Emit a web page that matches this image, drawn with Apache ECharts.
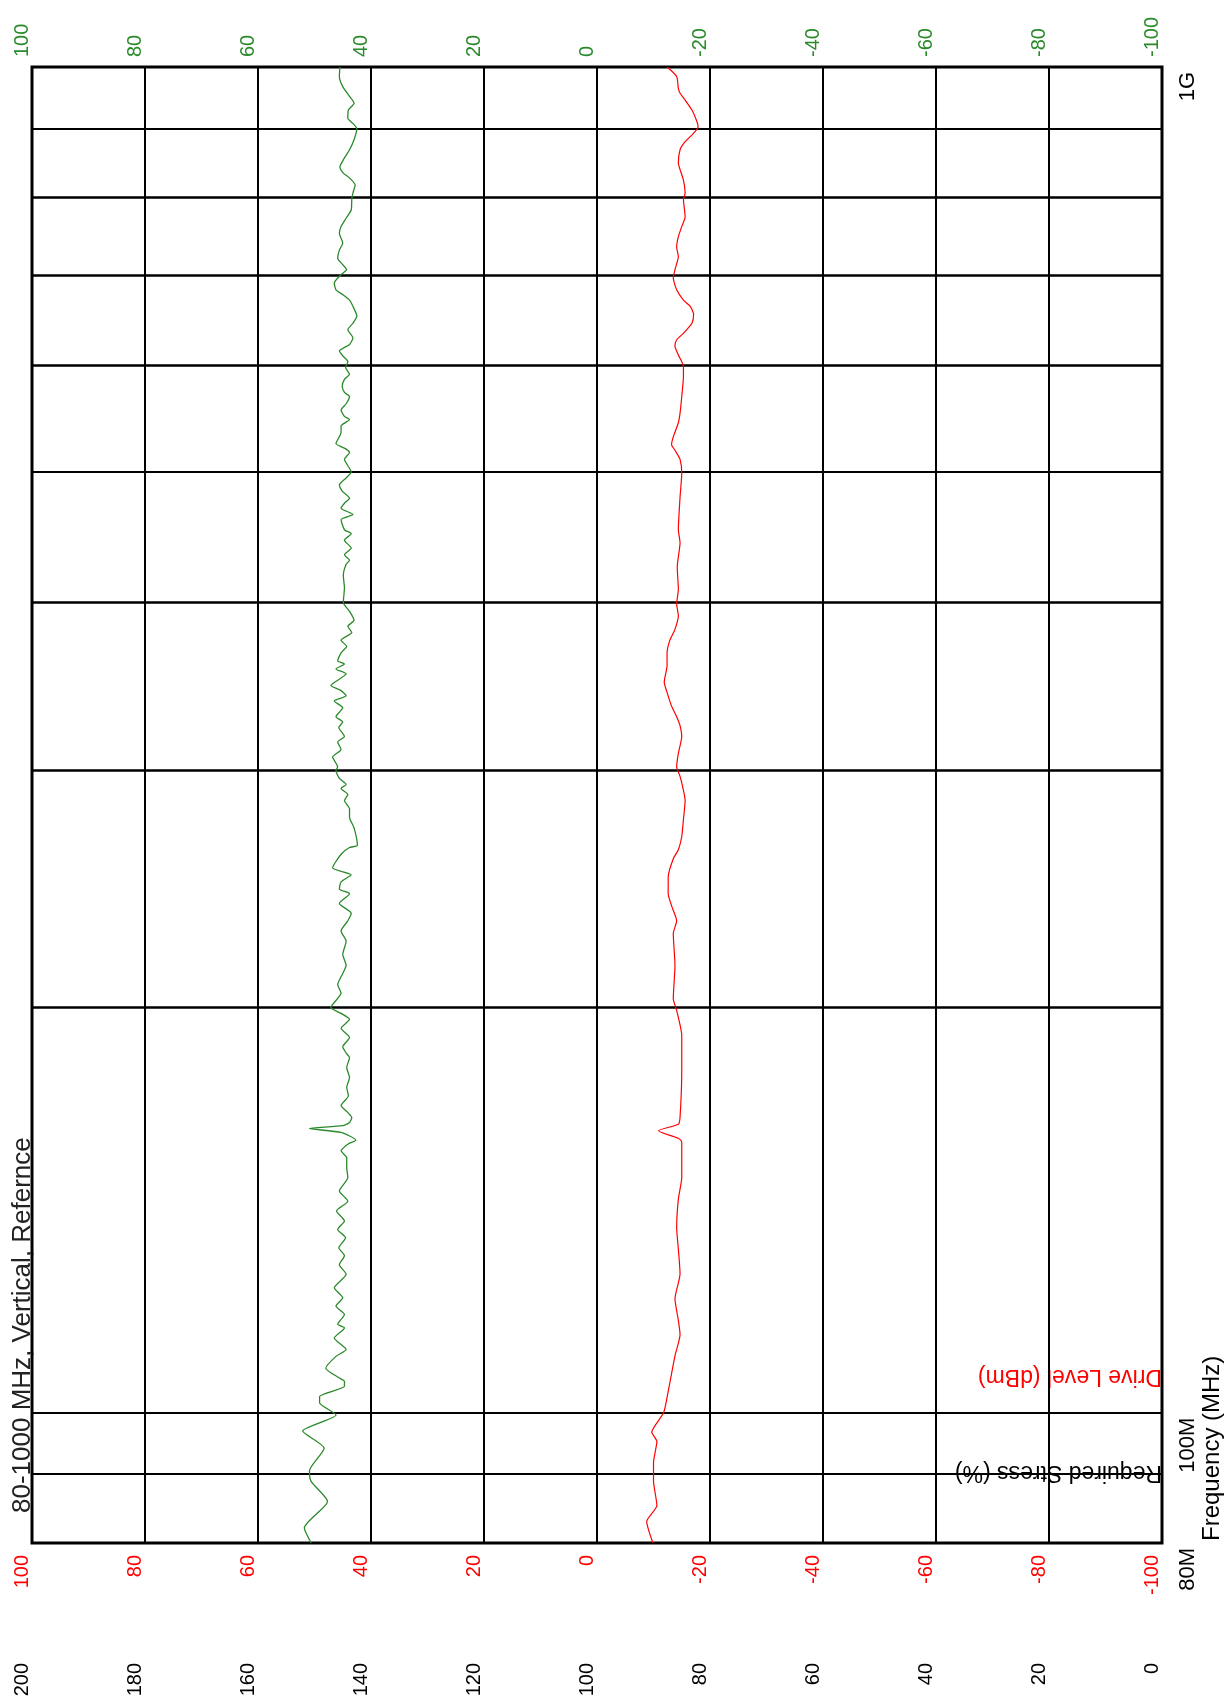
<!DOCTYPE html>
<html><head><meta charset="utf-8">
<script src="https://cdn.jsdelivr.net/npm/echarts@6/dist/echarts.min.js"></script>
<style>html,body{margin:0;padding:0;background:#fff}#c{width:1232px;height:1706px}</style>
</head><body><div id="c"></div>
<script>
// Frequency gridlines (MHz) and frequency tick labels
const gridFreqMHz = [90, 100, 200, 300, 400, 500, 600, 700, 800, 900];
const thinGridMHz = [90, 100, 500, 900];
const freqLabels = {80: '80M', 100: '100M', 1000: '1G'};

// Green trace: [frequency MHz, level] (top green axis)
const greenTrace = [
[80,50.6],[82.1,51.8],[85.9,47.7],[88.9,50.6],[90.5,50.9],[94.1,48.3],[96.9,52.1],[99.6,46.2],[101.7,49.1],[102.8,49.1],
[104.6,44.7],[105.5,44.7],[106.1,45.6],[107.9,48.0],[110.1,46.2],[111.4,44.4],[113.6,46.5],[115.6,44.7],[116.3,45.9],[118.3,44.7],
[120.0,46.2],[121.7,45.0],[123.8,46.5],[126.7,44.4],[128.8,45.6],[130.8,44.7],[132.6,45.7],[134.9,44.5],[136.8,45.9],[138.8,44.7],
[141.2,46.1],[143.6,44.1],[146.1,45.6],[149.5,44.1],[152.1,44.3],[154.7,44.3],[156.5,45.3],[158.3,44.1],[159.4,42.7],[161.5,45.3],
[162.6,50.9],[163.4,45.0],[164.3,43.8],[165.7,43.4],[167.1,44.1],[169.1,45.3],[172.0,44.0],[174.5,44.3],[177.4,43.8],[180.5,44.3],
[183.6,43.8],[185,44.4],[187,45.0],[190,43.8],[193,45.3],[196,43.8],[198,45.3],[200,47.1],[205,45.3],[208,45.9],
[212,45.0],[215,44.4],[219,45.0],[224,44.4],[228,45.3],[232,44.1],[235,43.5],[239,45.6],[243,43.8],[245,45.6],
[248,45.3],[251,43.5],[254,46.8],[260,45.3],[263,43.8],[264,42.4],[272,43.0],[277,43.8],[281,43.8],[285,44.7],
[288,44.1],[291,45.3],[293,44.4],[296,45.6],[300,46.2],[302,45.9],[307,46.8],[311,45.3],[315,45.9],[318,44.7],
[323,45.7],[326,45.0],[329,46.2],[334,45.0],[338,46.5],[341,44.4],[344,45.3],[347,47.1],[354,44.4],[357,46.2],
[360,44.7],[362,45.9],[367,45.3],[371,44.3],[375,45.3],[380,43.4],[384,44.1],[388,43.0],[394,43.8],[400,44.9],
[410,44.7],[419,44.9],[427,44.4],[430,43.8],[434,44.7],[439,43.5],[445,44.7],[450,43.5],[453,44.7],[461,45.3],
[465,43.2],[470,45.3],[474,44.7],[478,43.8],[484,45.1],[489,45.6],[495,44.4],[500,43.5],[511,44.7],[517,43.8],
[520,44.4],[525,46.2],[535,45.3],[541,45.3],[547,43.8],[550,44.7],[556,45.3],[562,44.4],[569,43.8],[573,44.7],
[579,45.1],[586,44.7],[591,43.8],[598,44.5],[604,44.1],[610,45.0],[615,45.6],[622,43.8],[629,43.2],[638,44.1],
[645,43.2],[653,42.5],[664,43.2],[671,43.8],[677,44.9],[683,46.2],[691,46.5],[701,45.3],[707,44.3],[713,45.0],
[721,45.9],[731,45.6],[740,45.0],[752,45.6],[761,45.3],[772,44.4],[783,43.5],[797,43.4],[806,43.2],[817,42.8],
[827,43.8],[834,44.9],[843,45.5],[853,44.9],[868,43.8],[883,43.0],[900,42.5],[908,43.2],[916,44.1],[929,44.0],
[940,43.0],[951,43.8],[967,45.0],[984,45.6],[1000,45.5]
];

// Red trace: [frequency MHz, Drive Level dBm]
const redTrace = [
[80,-9.9],[83.0,-8.8],[85.3,-10.6],[89.0,-10.0],[91.8,-10.0],[95.2,-10.6],[96.7,-9.7],[100,-11.8],[103.7,-12.6],[106.9,-13.2],
[110.2,-13.8],[114.3,-14.7],[117.1,-14.4],[121.5,-13.8],[126.8,-14.7],[132.3,-14.4],[137.2,-14.1],[144.1,-14.4],[149.5,-15.0],[158.9,-15.0],
[159.9,-14.4],[162.0,-10.9],[163.8,-14.4],[165.8,-14.7],[179.4,-15.0],[190.7,-15.0],[199,-14.1],[203,-13.5],[215,-13.8],[227,-13.5],
[232,-14.1],[238,-13.2],[243,-12.6],[250,-12.6],[258,-13.5],[262,-14.4],[268,-15.0],[276,-15.3],[285,-15.6],[290,-15.3],
[297,-14.7],[302,-14.1],[309,-14.4],[318,-15.0],[324,-14.7],[329,-14.1],[335,-13.2],[343,-12.4],[349,-11.9],[359,-12.4],
[367,-12.4],[375,-12.9],[382,-13.8],[391,-14.4],[399,-14.1],[409,-14.4],[425,-14.2],[443,-14.7],[453,-14.4],[479,-14.7],
[499,-15.0],[511,-14.7],[519,-13.8],[524,-13.2],[531,-13.5],[544,-14.4],[553,-14.7],[569,-15.0],[589,-15.3],[599,-15.3],
[611,-14.4],[620,-13.8],[627,-14.1],[634,-15.3],[645,-16.8],[655,-17.1],[664,-16.5],[671,-15.3],[683,-14.1],[697,-13.5],
[707,-13.8],[723,-14.4],[735,-14.1],[748,-14.4],[761,-15.0],[774,-15.6],[797,-15.3],[806,-15.6],[824,-15.3],[839,-14.7],
[848,-14.4],[868,-14.7],[880,-15.6],[893,-17.1],[903,-17.9],[913,-17.6],[929,-16.8],[945,-15.6],[956,-14.7],[964,-14.4],
[984,-14.1],[1000,-12.4]
];

const FONT = '"Liberation Sans", Arial, sans-serif';
const GREEN = '#2a8a2a';
const RED = '#ff0000';

const chart = echarts.init(document.getElementById('c'), null, {renderer: 'canvas'});
const hiddenAxisBits = {axisLine: {show: false}, axisTick: {show: false}};

const option = {
  animation: false,
  backgroundColor: '#ffffff',
  grid: {left: 32, right: 70, top: 67, bottom: 163, show: true, borderColor: '#000', borderWidth: 3,
         backgroundColor: 'transparent', containLabel: false, outerBoundsMode: 'none'},
  xAxis: [
    Object.assign({type: 'value', position: 'bottom', min: -100, max: 100, interval: 20, inverse: true,
      splitLine: {show: true, lineStyle: {color: '#000', width: 2}},
      axisLabel: {rotate: 90, color: RED, fontSize: 20, fontFamily: FONT, margin: 12, verticalAlign: 'bottom'}}, hiddenAxisBits),
    Object.assign({type: 'value', position: 'top', min: -100, max: 100, interval: 20, inverse: true,
      splitLine: {show: false},
      axisLabel: {rotate: -90, color: GREEN, fontSize: 20, fontFamily: FONT, margin: 10, verticalAlign: 'bottom'}}, hiddenAxisBits),
    Object.assign({type: 'value', position: 'bottom', offset: 108, min: 0, max: 200, interval: 20, inverse: true,
      splitLine: {show: false},
      axisLabel: {rotate: 90, color: '#000', fontSize: 20, fontFamily: FONT, margin: 12, verticalAlign: 'bottom'}}, hiddenAxisBits)
  ],
  yAxis: Object.assign({type: 'log', logBase: 10, min: 80, max: 1000, position: 'right',
    splitLine: {show: false},
    axisLabel: {rotate: 90, align: 'right', verticalAlign: 'bottom', margin: 37, padding: [0, 5, 0, 0],
      fontSize: 22, fontFamily: FONT, color: '#000', showMinLabel: true, showMaxLabel: true,
      formatter: v => freqLabels[Math.round(v)] || ''}}, hiddenAxisBits),
  series: [
    {
      name: 'Drive Level (dBm)', type: 'line', xAxisIndex: 0, yAxisIndex: 0,
      data: redTrace.map(p => [p[1], p[0]]),
      symbol: 'none', smooth: 0.2, z: 3,
      lineStyle: {color: RED, width: 1.2},
      emphasis: {disabled: true},
      markLine: {
        silent: true, symbol: ['none', 'none'], label: {show: false}, z: 1,
        lineStyle: {type: 'solid', color: '#000'},
        emphasis: {disabled: true},
        data: gridFreqMHz.map(f => ({yAxis: f, lineStyle: {type: 'solid', color: '#000', width: thinGridMHz.includes(f) ? 1.8 : 2.6}}))
      }
    },
    {
      name: 'Required Stress (%)', type: 'line', xAxisIndex: 1, yAxisIndex: 0,
      data: greenTrace.map(p => [p[1], p[0]]),
      symbol: 'none', smooth: 0.2, z: 3,
      lineStyle: {color: GREEN, width: 1.3},
      emphasis: {disabled: true}
    }
  ],
  graphic: [
    {type: 'text', x: 36, y: 1513, rotation: Math.PI / 2, silent: true,
     style: {text: '80-1000 MHz, Vertical, Refernce', font: '26px ' + FONT, fill: '#222', align: 'left', verticalAlign: 'bottom'}},
    {type: 'text', x: 1162, y: 1472, rotation: Math.PI, silent: true,
     style: {text: 'Required Stress (%)', font: '23px ' + FONT, fill: '#000', align: 'left', verticalAlign: 'middle'}},
    {type: 'text', x: 1162, y: 1376, rotation: Math.PI, silent: true,
     style: {text: 'Drive Level (dBm)', font: '23px ' + FONT, fill: RED, align: 'left', verticalAlign: 'middle'}},
    {type: 'text', x: 1224, y: 1541, rotation: Math.PI / 2, silent: true,
     style: {text: 'Frequency (MHz)', font: '24px ' + FONT, fill: '#000', align: 'left', verticalAlign: 'bottom'}}
  ]
};
chart.setOption(option);
</script>
</body></html>
